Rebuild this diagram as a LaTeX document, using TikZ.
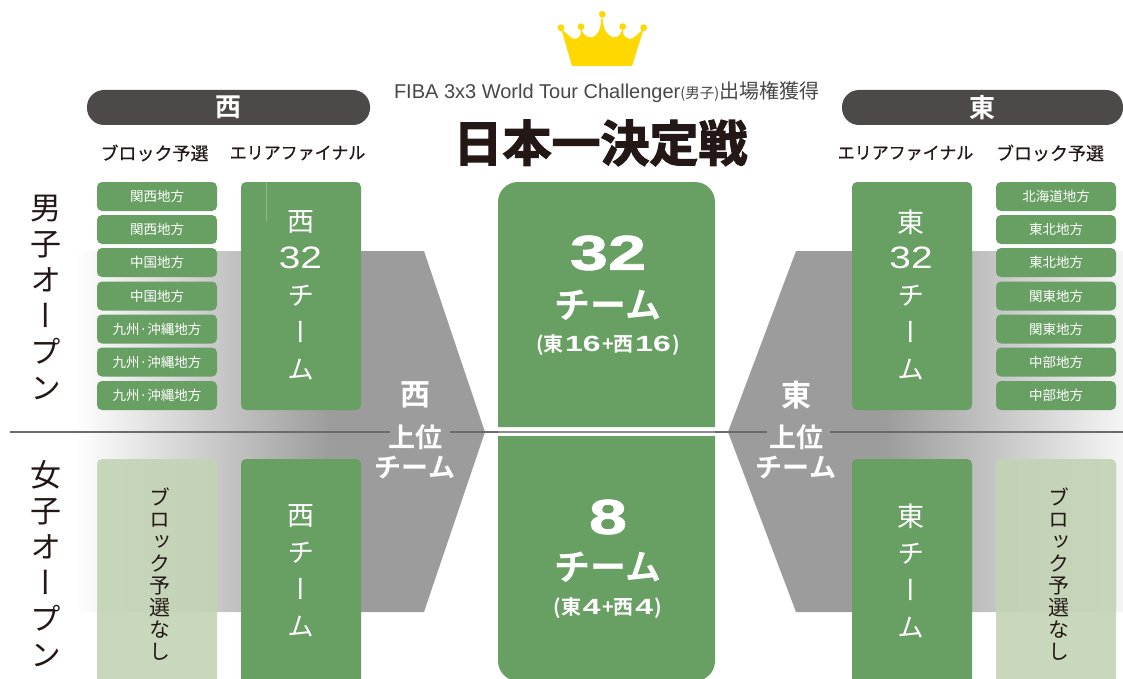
\documentclass[tikz,border=0pt]{standalone}
\usepackage{fontspec}
\setmainfont{Liberation Sans}
\newfontfamily\cjk{Noto Sans CJK JP}
\newfontfamily\cjkv{Noto Sans CJK JP}[Vertical=Alternates]
\newfontfamily\cjkm{Noto Sans CJK JP}[FakeBold=0.6]
\newfontfamily\cjkb{Noto Sans CJK JP Bold}
\newfontfamily\cjkk{Noto Sans CJK JP Bold}[FakeBold=2.5]
\newfontfamily\widenum{Liberation Sans}[FakeStretch=1.25]
\newfontfamily\widebold{Liberation Sans Bold}[FakeStretch=1.4,FakeBold=1.5]
\newfontfamily\midbold{Liberation Sans Bold}[FakeStretch=1.45]
\newcommand{\subdig}[1]{{\midbold\fontsize{22}{22}\selectfont\kern1.5pt #1\kern1.5pt}}
\definecolor{grn}{HTML}{689F63}
\definecolor{pale}{HTML}{C3D3B5}
\definecolor{pill}{HTML}{4C4948}
\definecolor{arrowgray}{HTML}{9C9C9C}
\definecolor{gold}{HTML}{FFD800}
\definecolor{ink}{HTML}{231815}
\tikzset{
  x=1pt,y=-1pt,
  txt/.style={inner sep=0pt,outer sep=0pt,align=center},
  pillbox/.style={fill=pill,rounded corners=17pt,minimum width=#1,minimum height=35pt,inner sep=0pt,text=white,font=\cjkb\fontsize{26}{26}\selectfont},
  small/.style={fill=grn,rounded corners=5pt,minimum width=120pt,minimum height=29pt,inner sep=0pt,text=white,font=\cjk\fontsize{13.5}{14}\selectfont},
  tallbox/.style={fill=grn,rounded corners=5pt},
  palebox/.style={fill=pale,fill opacity=.9,rounded corners=5pt},
  vtall/.style={txt,text=white,font=\cjkv\fontsize{27}{37}\selectfont},
  vside/.style={txt,text=ink,font=\cjkv\fontsize{31}{36}\selectfont},
  vpale/.style={txt,text=ink,font=\cjkv\fontsize{21}{22}\selectfont},
  headA/.style={txt,text=ink,font=\cjkm\fontsize{18}{18}\selectfont},
  headB/.style={txt,text=ink,font=\cjkm\fontsize{17}{18}\selectfont},
  big/.style={txt,text=white,font=\cjkb\fontsize{36}{36}\selectfont},
  num/.style={txt,text=white,font=\widebold\fontsize{49}{49}\selectfont},
  sub/.style={txt,text=white,font=\cjkb\fontsize{20}{20}\selectfont},
  arrowtxt/.style={txt,text=white,font=\cjkb\fontsize{27}{27}\selectfont},
  midline/.style={draw=black!58,line width=1.2pt},
}
\begin{document}
\begin{tikzpicture}
\useasboundingbox (0,0) rectangle (1123,679);
\clip (0,0) rectangle (1123,679);
% gray arrows
\begin{scope}
\clip (55,251) -- (424,251) -- (485,432) -- (424,612) -- (55,612) -- cycle;
\shade[left color=white,right color=arrowgray] (75,240) rectangle (330,620);
\fill[arrowgray] (329,240) rectangle (490,620);
\end{scope}
\begin{scope}
\clip (1123,251) -- (796,251) -- (728,432) -- (796,612) -- (1123,612) -- cycle;
\shade[left color=arrowgray,right color=black!4] (885,240) rectangle (1123,620);
\fill[arrowgray] (720,240) rectangle (886,620);
\end{scope}
% horizontal rule
\coordinate (ruleL) at (10,432);
\coordinate (ruleR) at (1123,432);
\draw[midline] (ruleL) -- (ruleR);
\fill[arrowgray] (390,429) rectangle (450,435);
\fill[arrowgray] (767,429) rectangle (830,435);
% crown
\fill[gold] (572,66) -- (561,28)
  .. controls (567,34) and (574,42) .. (578,38)
  .. controls (581,35) .. (581,27)
  .. controls (583,38) and (592,40) .. (596,35)
  .. controls (600,30) .. (602,14)
  .. controls (604,30) .. (609,35)
  .. controls (613,40) and (621,38) .. (623,27)
  .. controls (623,35) .. (627,38)
  .. controls (631,42) and (638,34) .. (644,28)
  -- (632,66) -- cycle;
\foreach \cx/\cy in {561/27.7,581/26.7,602.3/14.3,622.7/26.7,643.7/27.7}
  \fill[gold] (\cx,\cy) circle (3.4);
% titles
\node[txt,text=black!72,anchor=west] (fiba) at (394,92) {\fontsize{20}{20}\selectfont FIBA 3x3 World Tour Challenger{\cjk\fontsize{14.5}{14}\selectfont (男子)}{\cjk\fontsize{20}{20}\selectfont 出場権獲得}};
\node[txt,text=ink,font=\cjkk\fontsize{49}{50}\selectfont] (title) at (600.5,143) {日本一決定戦};
% pills
\node[pillbox=283pt] (west) at (228.5,107.5) {西};
\node[pillbox=281pt] (east) at (982.5,107.5) {東};
% headers
\node[headA] (hw1) at (154.5,153) {ブロック予選};
\node[headB] (hw2) at (297.5,153) {エリアファイナル};
\node[headB] (he1) at (905.5,153) {エリアファイナル};
\node[headA] (he2) at (1050,153) {ブロック予選};
% side labels
\node[vside] (men) at (46,297) {男\\子\\オ\\ー\\プ\\ン};
\node[vside] (women) at (46,564) {女\\子\\オ\\ー\\プ\\ン};
% west block boxes
\node[small] (w1) at (157,196.5) {関西地方};
\node[small] (w2) at (157,229.5) {関西地方};
\node[small] (w3) at (157,262.5) {中国地方};
\node[small] (w4) at (157,296) {中国地方};
\node[small] (w5) at (157,329) {九州·沖縄地方};
\node[small] (w6) at (157,362) {九州·沖縄地方};
\node[small] (w7) at (157,395.5) {九州·沖縄地方};
% east block boxes
\node[small] (e1) at (1056,196.5) {北海道地方};
\node[small] (e2) at (1056,229.5) {東北地方};
\node[small] (e3) at (1056,262.5) {東北地方};
\node[small] (e4) at (1056,296) {関東地方};
\node[small] (e5) at (1056,329) {関東地方};
\node[small] (e6) at (1056,362) {中部地方};
\node[small] (e7) at (1056,395.5) {中部地方};
% area finals
\fill[tallbox] (241,182) rectangle (361,410);
\draw[grn!75!white,line width=.4pt] (266,182) -- (266,221);
\node[vtall] (wa) at (301,222) {西};
\node[txt,text=white,font=\widenum\fontsize{31}{31}\selectfont] (wan) at (300.5,258) {32};
\node[vtall] (wb) at (301,333) {チ\\ー\\ム};
\fill[tallbox] (852,182) rectangle (972,410);
\node[vtall] (ea) at (911,222) {東};
\node[txt,text=white,font=\widenum\fontsize{31}{31}\selectfont] (ean) at (911,258) {32};
\node[vtall] (eb) at (911,333) {チ\\ー\\ム};
\fill[tallbox] (241,459) rectangle (361,700);
\node[vtall] (wl) at (301,571) {西\\チ\\ー\\ム};
\fill[tallbox] (852,459) rectangle (972,700);
\node[vtall] (el) at (911,571) {東\\チ\\ー\\ム};
% pale boxes
\fill[palebox] (97,459) rectangle (217,700);
\node[vpale] (wp) at (160,574) {ブ\\ロ\\ッ\\ク\\予\\選\\な\\し};
\fill[palebox] (996,459) rectangle (1116,700);
\node[vpale] (ep) at (1059,574) {ブ\\ロ\\ッ\\ク\\予\\選\\な\\し};
% centre
\fill[white] (498,427) rectangle (715,436);
\draw[black!45,line width=2pt] (498,432) -- (715,432);
\fill[grn] (498,427) [rounded corners=20pt] -- (498,182) -- (715,182) [sharp corners] -- (715,427) -- cycle;
\fill[grn] (498,436) [rounded corners=20pt] -- (498,681) -- (715,681) [sharp corners] -- (715,436) -- cycle;
\node[num] (c32) at (608,253) {32};
\node[big] (c32t) at (608,305) {チーム};
\node[sub] (c32s) at (608,345) {(東\subdig{16}+西\subdig{16})};
\node[num] (c8) at (608,517) {8};
\node[big] (c8t) at (608,567) {チーム};
\node[sub] (c8s) at (608,608) {(東\subdig{4}+西\subdig{4})};
% arrow labels
\node[arrowtxt,font=\cjkb\fontsize{30}{30}\selectfont] (wt) at (415,395) {西};
\node[arrowtxt] (wu) at (415,437) {上位};
\node[arrowtxt] (wc) at (415,468) {チーム};
\node[arrowtxt,font=\cjkb\fontsize{30}{30}\selectfont] (et) at (796,395) {東};
\node[arrowtxt] (eu) at (796,437) {上位};
\node[arrowtxt] (ec) at (796,468) {チーム};
\end{tikzpicture}
\end{document}
